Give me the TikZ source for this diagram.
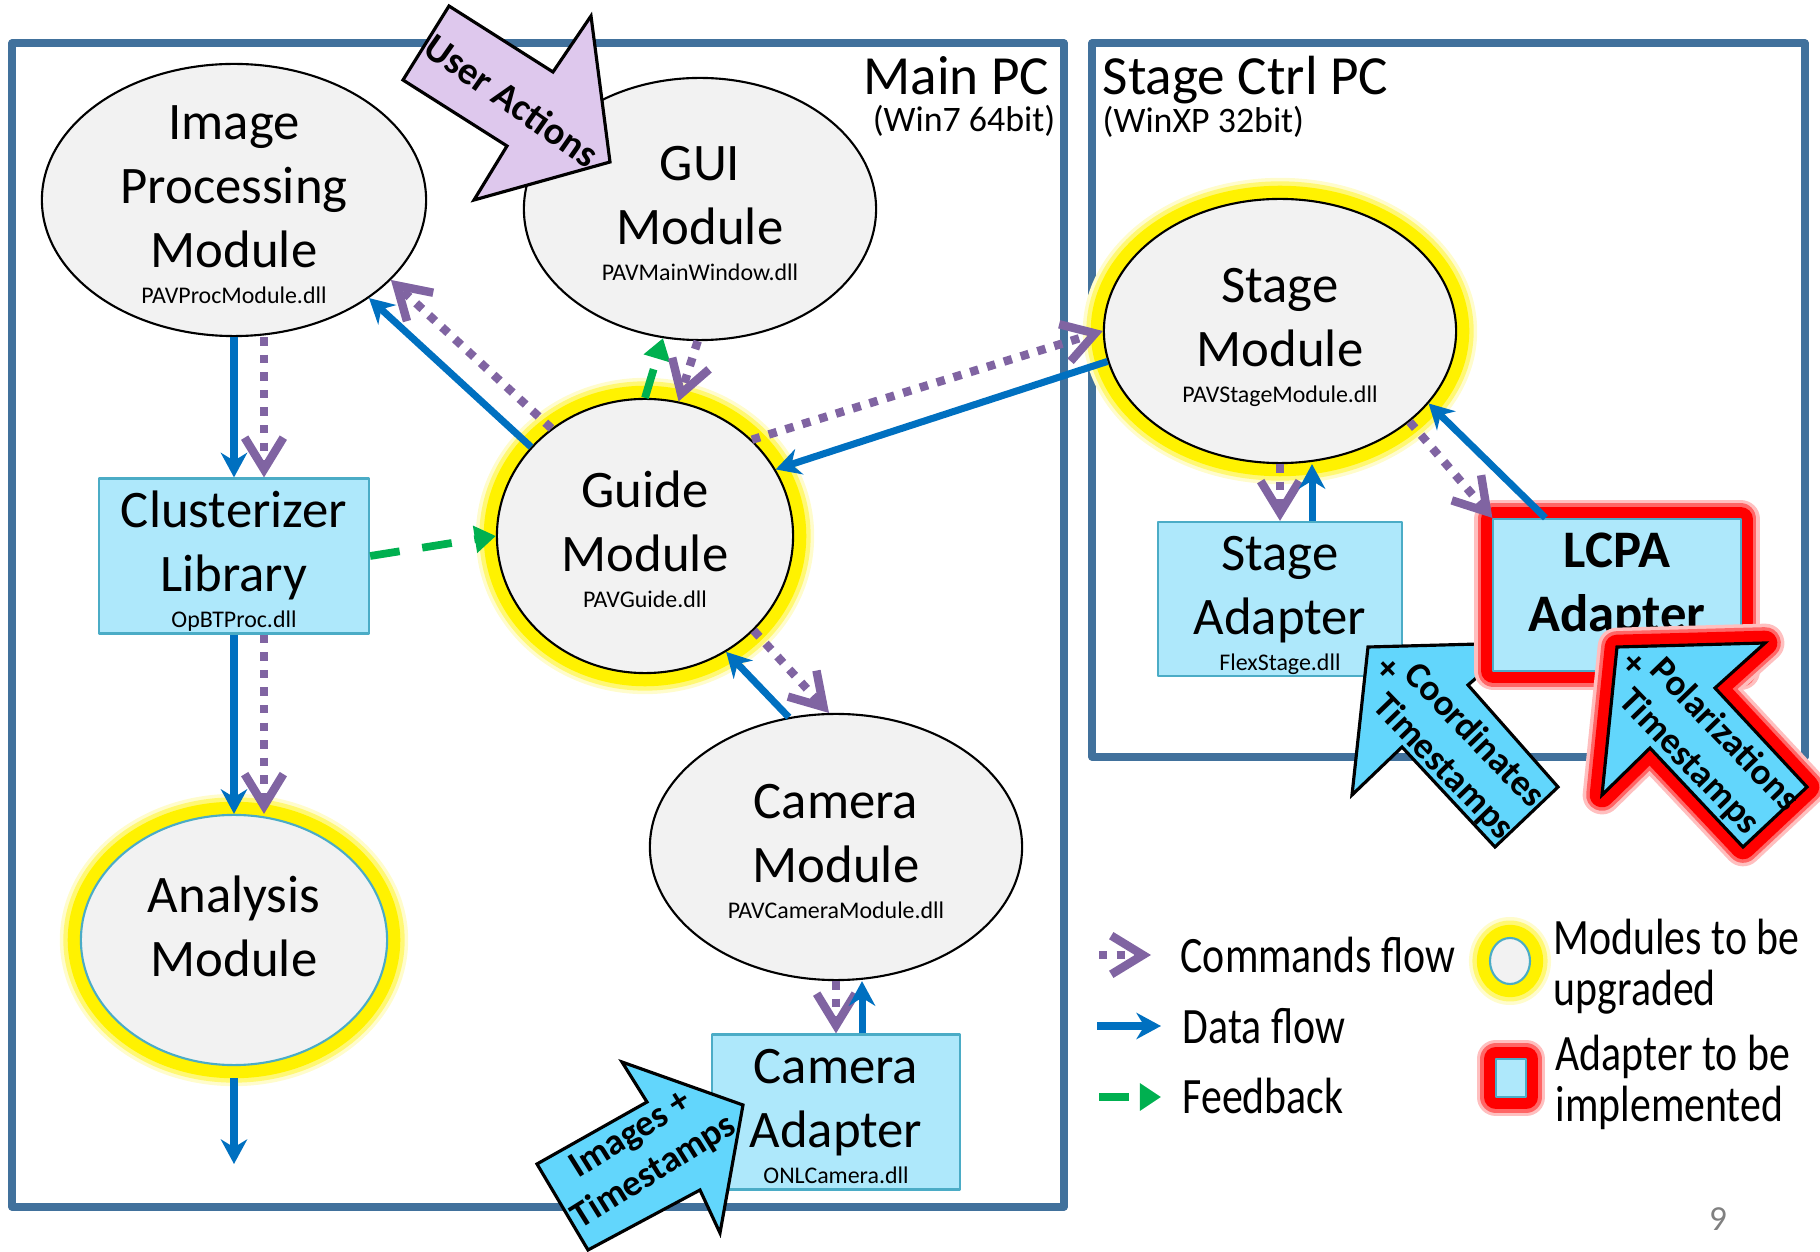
\documentclass[tikz,border=0pt]{standalone}
\usepackage{fontspec}
\setmainfont{Carlito}
\usepackage{graphicx}
\usetikzlibrary{arrows.meta,shapes.geometric}
\definecolor{pcblue}{RGB}{65,113,156}
\definecolor{modfill}{RGB}{242,242,242}
\definecolor{adfill}{RGB}{174,232,251}
\definecolor{adline}{RGB}{75,172,198}
\definecolor{cmdpurple}{RGB}{128,100,162}
\definecolor{datablue}{RGB}{0,112,192}
\definecolor{fbgreen}{RGB}{0,176,80}
\definecolor{userlila}{RGB}{222,200,237}
\definecolor{inblue}{RGB}{98,214,252}
\newcommand\modtxt[2][-6pt]{\smash{\raisebox{#1}{\begin{tabular}{@{}c@{}}#2\end{tabular}}}}
\newcommand\dllname[1]{\fontsize{6.8}{8}\selectfont #1}
\begin{document}
\begin{tikzpicture}[x=.01cm, y=.01cm, line join=round, >=Stealth,
	mod/.style={ellipse, draw=black, line width=.6pt, fill=modfill, inner sep=0pt, font=\fontsize{15}{18.2}\selectfont},
	adbox/.style={draw=adline, line width=.6pt, fill=adfill, inner sep=0pt, font=\fontsize{15}{18.2}\selectfont},
	glowy/.style={preaction={draw=yellow!20, line width=12pt}, preaction={draw=yellow!55, line width=10pt}, preaction={draw=yellow, line width=7.5pt}},
	redglow/.style={preaction={draw=red!25, line width=11pt}, preaction={draw=red!60, line width=9pt}, preaction={draw=red, line width=7pt}},
	pcbox/.style={draw=pcblue, line width=2pt},
	cmd/.style={draw=cmdpurple, line width=2.4pt, dash pattern=on 2.4pt off 2.6pt, -{Straight Barb[length=9pt, width=11pt]}},
	dat/.style={draw=datablue, line width=2pt, -{Stealth[length=7pt, width=7.5pt]}},
	fbk/.style={draw=fbgreen, line width=2.2pt, dash pattern=on 8.5pt off 6.5pt, -{Triangle[length=6pt, width=7.5pt]}},
	blockarr/.style={draw=black, line width=.9pt, line join=miter},
	blocktxt/.style={font=\bfseries\fontsize{10.5}{12.5}\selectfont, inner sep=0pt},
	legtxt/.style={anchor=west, inner sep=0pt, font=\fontsize{14.5}{14.5}\selectfont}]
	\useasboundingbox (0,0) rectangle (1820,-1252);
	% the two PCs
	\draw[pcbox] (12,-43) rectangle (1064,-1207);
	\draw[pcbox] (1092,-43) rectangle (1805,-757);
	\node[anchor=base east, inner sep=0pt, font=\fontsize{15.7}{18}\selectfont] (mainpc) at (1050,-95) {Main PC};
	\node[anchor=base east, inner sep=0pt, font=\fontsize{10.2}{12}\selectfont] (mainos) at (1056,-132) {(Win7 64bit)};
	\node[anchor=base west, inner sep=0pt, font=\fontsize{15.7}{18}\selectfont] (stagepc) at (1102,-95) {Stage Ctrl PC};
	\node[anchor=base west, inner sep=0pt, font=\fontsize{10.2}{12}\selectfont] (stageos) at (1102,-133) {(WinXP 32bit)};
	% modules
	\node[mod, minimum width=3.84cm, minimum height=2.72cm] (ipm) at (234,-200) {\modtxt{Image\\Processing\\Module\\[-8pt]\dllname{PAVProcModule.dll}}};
	\node[mod, minimum width=3.52cm, minimum height=2.62cm] (gui) at (700,-209) {\modtxt{GUI\\Module\\[-8pt]\dllname{PAVMainWindow.dll}}};
	\node[mod, glowy, minimum width=2.96cm, minimum height=2.74cm] (gm) at (645,-536) {\modtxt{Guide\\Module\\[-8pt]\dllname{PAVGuide.dll}}};
	\node[mod, glowy, minimum width=3.52cm, minimum height=2.64cm] (sm) at (1280,-331) {\modtxt{Stage\\Module\\[-8pt]\dllname{PAVStageModule.dll}}};
	\node[mod, minimum width=3.72cm, minimum height=2.66cm] (cam) at (836,-847) {\modtxt{Camera\\Module\\[-8pt]\dllname{PAVCameraModule.dll}}};
	\node[mod, glowy, draw=adline, minimum width=3.06cm, minimum height=2.50cm] (am) at (234,-940) {\modtxt[-1.2pt]{Analysis\\Module}};
	% adapters
	\node[adbox, minimum width=2.70cm, minimum height=1.55cm] (cl) at (234,-556) {\modtxt{Clusterizer\\Library\\[-8pt]\dllname{OpBTProc.dll}}};
	\node[adbox, minimum width=2.47cm, minimum height=1.55cm] (ca) at (836,-1112) {\modtxt{Camera\\Adapter\\[-8pt]\dllname{ONLCamera.dll}}};
	\node[adbox, minimum width=2.44cm, minimum height=1.54cm] (sa) at (1280,-599) {\modtxt{Stage\\Adapter\\[-8pt]\dllname{FlexStage.dll}}};
	% inputs
	\draw[blockarr, fill=userlila] (449,-6) -- (553,-72) -- (591,-16) -- (610,-162) -- (474,-200) -- (507,-146) -- (403,-80) -- cycle;
	\node[blocktxt, font=\bfseries\fontsize{11}{13}\selectfont, rotate=-35] (uat) at (512,-100) {User Actions};
	\draw[blockarr, fill=inblue] (537,-1164) -- (647,-1102) -- (622,-1062) -- (743,-1105) -- (720,-1233) -- (700,-1190) -- (588,-1250) -- cycle;
	\node[blocktxt, align=center, rotate=32] (imt) at (643,-1154) {Images +\\Timestamps};
	\draw[blockarr, fill=inblue] (1368,-647) -- (1517,-643) -- (1468,-685) -- (1558,-787) -- (1495,-847) -- (1402,-747) -- (1352,-795) -- cycle;
	\node[blocktxt, align=left, rotate=-46] (cot) at (1450,-743) {\raisebox{-.45em}{+}\,Coordinates\\\hphantom{+\,}Timestamps};
	\node[adbox, redglow, font=\bfseries\fontsize{15}{18.2}\selectfont, minimum width=2.47cm, minimum height=1.52cm] (lc) at (1617,-595) {\modtxt[-1.2pt]{LCPA\\Adapter}};
	\draw[blockarr, redglow, fill=inblue] (1617,-647) -- (1765,-643) -- (1715,-688) -- (1807,-787) -- (1743,-847) -- (1650,-748) -- (1602,-795) -- cycle;
	\node[blocktxt, align=left, rotate=-46] (pot) at (1700,-742) {\raisebox{-.45em}{+}\,Polarizations\\\hphantom{+\,}Timestamps};
	% flows
	\draw[dat] (ipm.south) -- (cl.north);
	\draw[cmd] ([xshift=.30cm]ipm.south) -- ([xshift=.30cm]cl.north);
	\draw[dat] (cl.south) -- (am.north);
	\draw[cmd] ([xshift=.30cm]cl.south) -- ([xshift=.30cm]am.north);
	\coordinate (aout) at (234,-1164);
	\draw[dat, shorten <=3.4pt] (am.south) -- (aout);
	\draw[dat] (gm.142) -- (ipm.-36);
	\draw[cmd] (gm.131) -- (ipm.-27);
	\draw[fbk] (cl.east) -- (gm.west);
	\draw[fbk] (gm.north) -- (gui.-106);
	\draw[cmd] (gui.-91) -- (gm.76);
	\draw[cmd] (gm.42) -- (sm.west);
	\draw[dat] (sm.190) -- (gm.27);
	\draw[cmd] (gm.-41) -- (cam.93);
	\draw[dat] (cam.110) -- (gm.-55);
	\draw[cmd] (cam.south) -- (ca.north);
	\draw[dat] ([xshift=.26cm]ca.north) -- ([xshift=.26cm]cam.south);
	\draw[cmd] (sm.south) -- (sa.north);
	\draw[dat] ([xshift=.32cm]sa.north) -- ([xshift=.32cm]sm.south);
	\draw[cmd] (sm.-35) -- (lc.north west);
	\draw[dat] ([xshift=.53cm]lc.north west) -- (sm.-26);
	% legend
	\coordinate (lc1) at (1099,-955); \coordinate (lc2) at (1151,-955);
	\coordinate (ld1) at (1097,-1026); \coordinate (ld2) at (1161,-1026);
	\coordinate (lf1) at (1099,-1097); \coordinate (lf2) at (1161,-1097);
	\draw[cmd] (lc1) -- (lc2);
	\draw[dat] (ld1) -- (ld2);
	\draw[fbk] (lf1) -- (lf2);
	\node[legtxt] (lgc) at (1180,-955) {\scalebox{.82}[1]{Commands flow}};
	\node[legtxt] (lgd) at (1182,-1026) {\scalebox{.82}[1]{Data flow}};
	\node[legtxt] (lgf) at (1182,-1096) {\scalebox{.82}[1]{Feedback}};
	\node[mod, glowy, draw=adline, minimum width=.40cm, minimum height=.46cm] (lgm) at (1510,-961) {};
	\node[adbox, redglow, minimum width=.30cm, minimum height=.38cm] (lga) at (1511,-1078) {};
	\node[legtxt] (lgmt) at (1553,-970) {\scalebox{.82}[1]{\begin{tabular}{@{}l@{}}Modules to be\\upgraded\end{tabular}}};
	\node[legtxt] (lgat) at (1555,-1086) {\scalebox{.82}[1]{\begin{tabular}{@{}l@{}}Adapter to be\\implemented\end{tabular}}};
	\node[text=gray, font=\fontsize{10}{12}\selectfont] (pg) at (1718,-1219) {9};
\end{tikzpicture}
\end{document}
